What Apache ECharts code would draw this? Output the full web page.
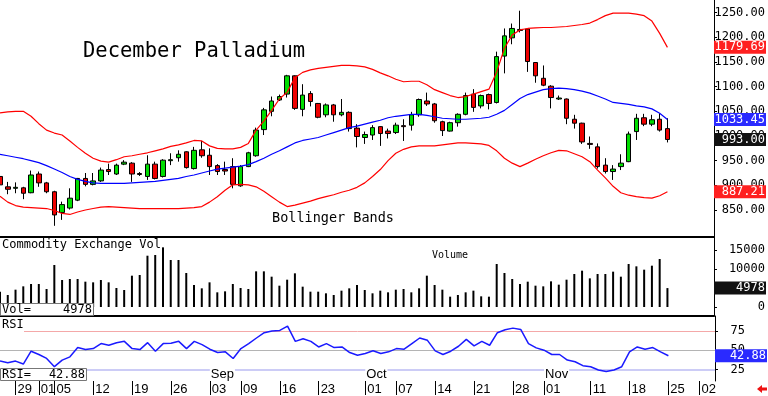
<!DOCTYPE html>
<html><head><meta charset="utf-8">
<script src="https://cdn.jsdelivr.net/npm/echarts@6/dist/echarts.min.js"></script>
<style>html,body{margin:0;padding:0;background:#fff}#c{width:768px;height:396px}</style>
</head><body><div id="c"></div>
<script>
const categories = ["07-25","07-26","07-29","07-30","07-31",
"08-01","08-02","08-05","08-06","08-07","08-08","08-09","08-12","08-13","08-14","08-15","08-16","08-19","08-20","08-21","08-22","08-23","08-26","08-27","08-28","08-29","08-30",
"09-03","09-04","09-05","09-06","09-09","09-10","09-11","09-12","09-13","09-16","09-17","09-18","09-19","09-20","09-23","09-24","09-25","09-26","09-27","09-30",
"10-01","10-02","10-03","10-04","10-07","10-08","10-09","10-10","10-11","10-14","10-15","10-16","10-17","10-18","10-21","10-22","10-23","10-24","10-25","10-28","10-29","10-30","10-31",
"11-01","11-04","11-05","11-06","11-07","11-08","11-11","11-12","11-13","11-14","11-15","11-18","11-19","11-20","11-21","11-22","11-25","11-26","11-27","11-29",
"12-02","12-03","12-04"];
const labelDates = ["07-29","08-01","08-05","08-12","08-19","08-26","09-03","09-09","09-16","09-23","10-01","10-07","10-14","10-21","10-28","11-01","11-11","11-18","11-25","12-02"];
const monthDates = ["09-03","10-01","11-01"];
const monthNames = ["Sep","Oct","Nov"];

const opens = [918,897,894,895,885,923,905,887,845,854,
870,914,902,909,932,923,943,945,924,918,
943,918,950,956,968,934,972,961,940,932,
938,899,938,960,1013,1050,1073,1085,1122,1054,
1086,1066,1043,1063,1043,1048,1016,997,1002,1019,
1010,1007,1021,1022,1043,1071,1065,1029,1010,1027,
1044,1085,1061,1084,1068,1162,1199,1214,1217,1149,
1117,1101,1075,1075,1034,1026,985,978,941,928,
938,948,1009,1037,1024,1034,1015];
const closes = [901,892,896,884,921,905,887,840,861,874,
914,902,909,931,928,941,947,923,922,943,
914,951,952,963,936,971,960,938,928,929,
902,938,966,1012,1053,1071,1080,1122,1056,1083,
1070,1038,1063,1043,1048,1015,999,1003,1017,1005,
1005,1022,1019,1043,1074,1065,1031,1011,1027,1044,
1082,1058,1082,1066,1161,1203,1218,1216,1151,1122,
1103,1078,1077,1036,1026,988,983,938,928,933,
945,1004,1036,1024,1033,1012,993];
const lows = [897,882,884,872,884,897,884,818,830,851,
868,898,900,907,921,921,941,907,919,911,
912,916,941,948,934,932,956,921,921,921,
894,897,937,958,1002,1040,1071,1078,1053,1040,
1060,1036,1038,1029,1040,1009,977,984,992,980,
995,1004,990,1011,1039,1061,1027,1000,1009,1019,
1042,1049,1056,1054,1066,1127,1186,1210,1130,1108,
1101,1056,1073,1024,1015,984,974,934,924,911,
931,947,992,1020,1020,1009,987];
const highs = [922,907,906,897,930,928,907,889,867,894,
915,925,925,936,944,944,951,947,927,961,
948,953,965,971,969,978,990,975,943,948,
955,941,968,1017,1057,1080,1084,1124,1123,1105,
1091,1067,1066,1065,1075,1050,1024,1009,1022,1020,
1015,1027,1034,1049,1076,1088,1067,1031,1029,1046,
1088,1095,1084,1086,1171,1218,1228,1254,1218,1150,
1143,1103,1082,1076,1043,1027,999,985,955,941,
963,1009,1045,1045,1043,1046,1036];
const upperBand = [1047,1049,1050,1050,1040,1025,1012,1006,1002,990,
977,965,955,949,947,952,958,960,963,966,
970,974,979,982,986,991,990,980,975,974,
974,977,985,1012,1030,1052,1075,1089,1118,1129,
1134,1137,1139,1141,1143,1143,1142,1140,1135,1128,
1122,1115,1110,1111,1111,1104,1094,1088,1082,1078,
1080,1085,1090,1095,1130,1178,1205,1215,1218,1219,
1220,1220,1221,1222,1224,1226,1229,1236,1244,1249,
1249,1249,1247,1244,1233,1208,1179.69];
const middleBand = [963,960,957,954,950,946,940,933,926,918,
912,908,905,904,904,904,904,905,906,907,
908,910,912,914,918,921,925,929,933,935,
937,939,942,948,955,963,970,978,986,991,
994,997,1002,1007,1012,1017,1020,1024,1028,1032,
1037,1040,1042,1044,1044,1042,1039,1036,1035,1034,
1034,1035,1036,1038,1044,1052,1064,1076,1084,1089,
1094,1096,1097,1096,1094,1091,1087,1081,1075,1068,
1066,1064,1061,1059,1055,1046,1033.45];
const lowerBand = [878,866,859,856,855,854,853,849,843,841,
846,850,853,856,857,856,855,854,853,853,
853,853,853,853,854,855,857,866,877,890,
901,902,901,897,888,877,866,857,860,864,
868,873,877,881,886,890,896,905,918,932,
950,965,973,978,980,980,980,982,984,986,
986,985,984,981,970,955,945,938,945,953,
960,966,971,970,964,958,948,931,915,898,
885,880,877,875,874,879,887.21];
const volumes = [4000,3157,4560,5437,6050,6050,4736,11050,7100,7367,
7367,6665,6490,7100,6490,5000,4470,8244,8420,13500,
13680,15700,12365,12365,8945,5790,4911,6490,3860,4120,
6050,5000,4736,9384,9384,7980,5612,7190,8860,5350,
4034,4034,3600,3157,4300,4911,5790,4470,3600,4300,
3860,4560,4736,3860,4911,8244,5790,4560,2720,3157,
3860,4300,2806,2720,11313,8945,7367,6050,6665,5612,
5437,6753,5876,7190,8680,9560,7540,8680,8680,9300,
7980,11313,10700,9822,10875,12630,4978];
const rsi = [36.0,33.9,36.0,32.2,48.7,44.5,39.4,28.8,37.3,41.5,
53.4,50.8,52.1,58.5,56.4,59.7,61.4,52.1,50.8,59.7,
48.7,58.5,58.9,61.4,52.1,61.4,57.2,51.3,47.0,47.9,
39.4,52.1,58.5,65.7,72.5,74.6,75.4,80.9,61.4,64.8,
61.4,54.2,58.5,53.4,54.2,47.0,43.6,45.8,49.2,45.8,
47.9,52.1,51.3,58.5,65.7,62.7,49.2,44.5,48.7,55.1,
64.0,55.5,61.4,56.4,72.5,76.3,78.4,76.7,58.5,53.0,
50.0,44.5,44.5,37.3,35.2,30.1,28.8,24.6,22.5,24.6,
28.8,47.9,54.2,51.3,53.4,47.9,42.88];
const priceTicks = [850,900,950,1000,1050,1100,1150,1200,1250];
const volumeTicks = [0,5000,10000,15000];
const rsiTicks = [25,50,75];
const rsiLevels = [75,50,25];

const MONO = '"DejaVu Sans Mono", "Liberation Mono", monospace';
const last = a => a[a.length - 1];
const candleData = opens.map((o, i) => [o, closes[i], lows[i], highs[i]]);

function endLabel(bg, fmt) {
  return {show: true, position: 'end', distance: 52, align: 'right', verticalAlign: 'middle', formatter: fmt,
    color: '#fff', backgroundColor: bg, fontFamily: MONO, fontSize: 12, opacity: 1,
    width: 49, padding: [1, 1, 0, 2], lineHeight: 12};
}
const hiddenLine = {color: 'rgba(0,0,0,0)', width: 0, type: 'solid'};
function markEnd(value, bg, fmt) {
  return {silent: true, symbol: ['none', 'none'], animation: false, z: 50,
    lineStyle: hiddenLine, label: endLabel(bg, fmt), data: [{yAxis: value}]};
}
const f2 = p => Number(p.value).toFixed(2);

const chart = echarts.init(document.getElementById('c'), null, {renderer: 'canvas'});
const commonX = {type: 'category', data: categories, boundaryGap: false,
  axisTick: {show: false}, axisLabel: {show: false}, splitLine: {show: false}};
function yAx(grid, min, max, ticks, margin, fmt) {
  return {type: 'value', gridIndex: grid, position: 'right', min: min, max: max,
    splitLine: {show: false},
    axisLine: {show: true, lineStyle: {color: '#000', width: 1}},
    axisTick: {show: true, customValues: ticks, length: 3, lineStyle: {color: '#000'}},
    axisLabel: {show: true, customValues: ticks, formatter: fmt, align: 'right', margin: margin,
      color: '#000', fontFamily: MONO, fontSize: 12}};
}

chart.setOption({
  animation: false,
  backgroundColor: '#fff',
  grid: [
    {left: 0, right: 53, top: 0, height: 237},
    {left: 0, right: 53, top: 237, height: 79},
    {left: 0, right: 53, top: 316, height: 66}
  ],
  xAxis: [
    Object.assign({}, commonX, {gridIndex: 0, axisLine: {show: true, onZero: false, lineStyle: {color: '#000', width: 2}}}),
    Object.assign({}, commonX, {gridIndex: 1, axisLine: {show: true, onZero: false, lineStyle: {color: '#000', width: 2}}}),
    Object.assign({}, commonX, {gridIndex: 2, position: 'bottom',
      axisLine: {show: false, onZero: false},
      axisTick: {show: true, length: 14, interval: (i, v) => labelDates.includes(v), lineStyle: {color: '#000'}},
      axisLabel: {show: true, interval: (i, v) => labelDates.includes(v), formatter: v => v.slice(3),
        align: 'left', margin: 2, padding: [0, 0, 0, 2], color: '#000', fontFamily: '"Liberation Sans", Arial, sans-serif', fontSize: 13}}),
    Object.assign({}, commonX, {gridIndex: 2, position: 'bottom', z: 10,
      axisLine: {show: false, onZero: false},
      axisLabel: {show: true, inside: true, margin: 0, interval: (i, v) => monthDates.includes(v),
        formatter: v => monthNames[monthDates.indexOf(v)], align: 'left', backgroundColor: '#fff',
        padding: [0, 1, 0, 1], color: '#000', fontFamily: '"Liberation Sans", Arial, sans-serif', fontSize: 13}})
  ],
  yAxis: [
    yAx(0, 795.3, 1275.7, priceTicks, 51, v => v.toFixed(2)),
    yAx(1, -2368, 18421, volumeTicks, 51, v => String(v)),
    yAx(2, 10.4, 94, rsiTicks, 30, v => String(v))
  ],
  series: [
    {type: 'candlestick', name: 'Price', xAxisIndex: 0, yAxisIndex: 0, data: candleData, barWidth: 5,
      itemStyle: {color: '#00dd00', color0: '#ee0000', borderColor: '#000', borderColor0: '#000', borderWidth: 1},
      markLine: markEnd(last(closes), '#111', f2)},
    {type: 'line', name: 'Upper', xAxisIndex: 0, yAxisIndex: 0, data: upperBand, symbol: 'none',
      lineStyle: {color: '#ff0000', width: 1.2}, markLine: markEnd(last(upperBand), '#ff2020', f2)},
    {type: 'line', name: 'Middle', xAxisIndex: 0, yAxisIndex: 0, data: middleBand, symbol: 'none',
      lineStyle: {color: '#0000ff', width: 1.2}, markLine: markEnd(last(middleBand), '#2a2aff', f2)},
    {type: 'line', name: 'Lower', xAxisIndex: 0, yAxisIndex: 0, data: lowerBand, symbol: 'none',
      lineStyle: {color: '#ff0000', width: 1.2}, markLine: markEnd(last(lowerBand), '#ff2020', f2)},
    {type: 'bar', name: 'Volume', xAxisIndex: 1, yAxisIndex: 1, data: volumes, barWidth: 2,
      itemStyle: {color: '#000'}, markLine: markEnd(last(volumes), '#111', p => String(p.value))},
    {type: 'line', name: 'RSI', xAxisIndex: 2, yAxisIndex: 2, data: rsi, symbol: 'none', z: 3,
      lineStyle: {color: '#1a1aff', width: 1.5},
      markLine: {silent: true, symbol: ['none', 'none'], animation: false, z: 1,
        data: [
          {yAxis: rsiLevels[0], lineStyle: {color: '#f4a8a8', width: 1, type: 'solid'}, label: {show: false}},
          {yAxis: rsiLevels[1], lineStyle: {color: '#b4b4b4', width: 1, type: 'solid'}, label: {show: false}},
          {yAxis: rsiLevels[2], lineStyle: {color: '#ccccf6', width: 2, type: 'solid'}, label: {show: false}}
        ]}},
    {type: 'line', name: 'RSI last', xAxisIndex: 2, yAxisIndex: 2, data: [], symbol: 'none', z: 50,
      markLine: markEnd(last(rsi), '#2a2aff', f2)}
  ],
  graphic: [
    {type: 'text', x: 83, y: 52, z: 100, style: {text: 'December Palladium', font: '20.5px ' + MONO, fill: '#000', textVerticalAlign: 'middle', verticalAlign: 'middle'}},
    {type: 'text', x: 272, y: 218, z: 100, style: {text: 'Bollinger Bands', font: '13.5px ' + MONO, fill: '#000', textVerticalAlign: 'middle', verticalAlign: 'middle'}},
    {type: 'text', x: 2, y: 245, z: 100, style: {text: 'Commodity Exchange Vol', font: '12px ' + MONO, fill: '#000', textVerticalAlign: 'middle', verticalAlign: 'middle'}},
    {type: 'text', x: 432, y: 255, z: 100, style: {text: 'Volume', font: '10px ' + MONO, fill: '#000', textVerticalAlign: 'middle', verticalAlign: 'middle'}},
    {type: 'rect', z: 100, shape: {x: 0.5, y: 303.5, width: 93, height: 12}, style: {fill: '#fff', stroke: '#777', lineWidth: 1}},
    {type: 'text', x: 2, y: 310, z: 101, style: {text: 'Vol=', font: '12px ' + MONO, fill: '#000', textVerticalAlign: 'middle', verticalAlign: 'middle'}},
    {type: 'text', x: 92, y: 310, z: 101, style: {text: String(last(volumes)), font: '12px ' + MONO, fill: '#000', textAlign: 'right', align: 'right', textVerticalAlign: 'middle', verticalAlign: 'middle'}},
    {type: 'rect', z: 100, shape: {x: 0, y: 318, width: 24, height: 14}, style: {fill: '#fff'}},
    {type: 'text', x: 2, y: 325, z: 101, style: {text: 'RSI', font: '12px ' + MONO, fill: '#000', textVerticalAlign: 'middle', verticalAlign: 'middle'}},
    {type: 'rect', z: 100, shape: {x: 0.5, y: 368.5, width: 86, height: 12}, style: {fill: '#fff', stroke: '#777', lineWidth: 1}},
    {type: 'text', x: 2, y: 375, z: 101, style: {text: 'RSI=', font: '12px ' + MONO, fill: '#000', textVerticalAlign: 'middle', verticalAlign: 'middle'}},
    {type: 'text', x: 85, y: 375, z: 101, style: {text: last(rsi).toFixed(2), font: '12px ' + MONO, fill: '#000', textAlign: 'right', align: 'right', textVerticalAlign: 'middle', verticalAlign: 'middle'}},
    {type: 'polygon', z: 100, shape: {points: [[757, 389], [762, 385], [762, 387.5], [767, 387.5], [767, 390.5], [762, 390.5], [762, 393]]}, style: {fill: '#ee1111'}}
  ]
});
</script>
</body></html>
